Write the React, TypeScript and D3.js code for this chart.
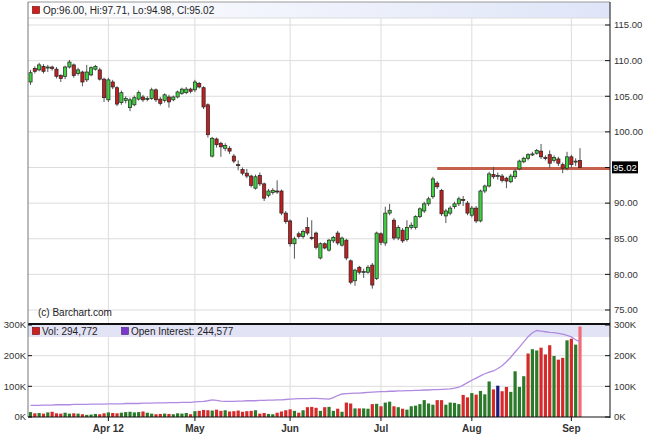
import React from "react";
import * as d3 from "d3";

// ---- DATA ----
const opens = [107.0,108.9,108.7,109.2,109.0,109.1,108.8,107.9,107.8,109.1,109.4,108.2,108.4,107.3,108.0,108.8,108.7,107.4,104.5,107.0,106.2,104.1,104.4,103.4,103.8,104.6,104.9,104.6,104.7,105.9,104.6,104.4,104.9,104.5,104.9,105.4,105.5,106.0,105.9,106.8,106.2,103.8,96.6,99.0,98.4,97.7,97.7,96.6,95.4,94.7,94.2,93.8,92.1,93.9,92.7,91.1,91.5,91.7,91.7,88.6,87.5,84.3,85.7,85.3,86.6,85.2,85.8,82.3,84.3,83.4,84.7,85.8,84.1,84.8,81.9,79.1,81.0,80.3,80.3,81.3,79.4,85.7,84.4,88.6,87.6,85.1,86.2,84.9,86.6,86.6,88.1,88.9,89.9,90.9,92.8,91.8,88.2,88.6,89.5,89.9,90.5,90.0,88.3,89.3,87.5,91.7,92.4,94.0,93.8,93.8,93.5,93.0,93.7,94.8,95.8,96.3,96.8,97.0,97.3,96.4,96.8,96.0,96.2,95.4,94.9,96.5,95.8,96.0];
const highs = [108.7,109.2,109.7,109.5,109.4,109.3,109.1,108.1,109.3,110.1,109.6,109.0,108.6,109.4,109.2,109.4,109.0,107.6,107.6,107.3,106.4,105.8,105.0,104.8,105.1,105.8,105.2,105.0,106.2,106.1,104.9,105.4,105.2,105.1,105.8,106.2,106.3,106.2,107.3,107.0,106.4,104.0,99.3,99.2,98.6,98.4,98.0,96.9,96.0,95.0,94.8,94.0,94.0,94.3,92.9,92.0,92.1,93.2,91.9,88.9,87.7,85.3,86.0,86.3,88.0,87.6,86.0,84.5,84.5,85.0,85.4,86.1,85.3,85.0,82.1,80.8,81.2,80.8,81.3,81.6,86.0,85.9,89.5,89.9,87.9,86.9,86.5,87.6,87.3,88.3,89.4,90.2,90.9,93.7,93.1,92.0,89.2,89.6,90.2,90.9,91.0,90.3,89.6,89.6,91.9,92.6,94.4,95.1,94.3,94.1,93.7,94.1,94.8,96.1,96.5,97.0,97.2,97.6,98.3,96.7,97.4,96.7,96.5,95.7,97.2,96.8,96.3,97.71];
const lows = [106.6,108.2,108.5,108.2,108.4,108.6,107.5,107.0,107.4,108.9,107.6,107.9,106.4,107.0,107.8,108.6,107.2,104.2,104.2,106.0,103.6,103.8,104.0,102.9,103.6,104.4,104.2,104.3,104.5,104.2,103.7,104.1,103.4,104.3,104.7,105.2,105.3,105.4,105.6,106.1,103.2,99.2,96.4,97.8,96.5,97.3,96.9,95.6,94.6,93.9,93.5,92.2,91.9,92.4,90.3,90.8,91.2,91.3,88.3,87.1,83.9,82.2,85.0,85.0,85.5,84.8,83.5,82.1,83.5,83.2,84.4,84.1,83.9,82.0,78.6,78.4,80.0,79.5,80.1,78.0,79.2,84.1,84.0,88.3,84.8,84.8,84.4,84.6,86.3,86.3,87.9,88.6,89.6,90.6,92.0,88.2,87.2,88.3,89.2,89.6,89.6,88.3,88.0,87.2,87.3,91.4,92.2,93.4,93.3,92.9,92.1,92.8,93.4,94.6,95.6,96.0,96.6,96.8,96.2,96.0,94.9,95.7,95.2,94.2,94.6,94.9,95.2,94.98];
const closes = [108.3,108.5,109.4,108.5,109.1,108.9,107.8,107.5,109.1,109.8,107.9,108.7,107.0,108.4,109.0,109.2,107.4,104.8,107.3,106.3,103.9,105.5,104.7,104.5,104.8,105.5,104.5,104.7,105.9,104.5,104.0,105.2,104.2,104.9,105.6,106.0,106.0,105.7,107.0,106.3,103.5,99.6,99.1,98.2,97.9,98.1,97.3,95.9,95.3,94.2,93.8,92.5,93.7,92.7,90.7,91.7,91.8,91.6,88.6,87.4,84.3,85.0,85.3,86.0,85.8,85.1,83.8,84.3,83.7,84.8,85.2,84.4,85.1,82.3,78.9,80.6,80.3,80.4,81.0,78.5,85.8,84.5,88.6,89.0,85.1,86.6,84.7,86.6,86.9,88.1,89.2,89.9,90.6,93.4,92.3,88.5,88.9,89.3,89.9,90.6,90.4,88.6,89.3,87.5,91.7,92.4,94.1,93.7,93.9,93.2,93.1,93.8,94.5,95.9,96.3,96.8,96.9,97.4,96.5,96.3,95.6,96.4,95.6,94.9,96.5,95.4,95.9,95.02];
// volume in thousands
const volumes = [16,12,13,11,15,17,12,11,14,11,12,11,9,7,8,10,9,12,
  15,13,12,14,16,17,15,16,18,14,11,9,10,11,10,9,12,11,13,9,
  19,20,23,22,21,24,20,22,18,19,21,17,19,20,22,11,13,10,9,14,18,22,
  25,20,14,22,32,33,30,20,32,33,20,27,17,47,44,28,28,28,27,42,43,
  35,47,50,35,32,27,24,35,37,42,55,44,40,55,55,40,47,46,42,
  72,64,78,73,85,74,116,90,102,84,98,82,149,98,133,207,221,217,226,204,234,199,187,193,250,255,236,295];
// open interest in thousands
const openInterest = [38,38,38,39,39,39,40,40,40,40,41,41,41,41,42,42,42,42,
  43,43,43,43,44,44,44,44,45,45,45,46,46,46,47,47,47,48,48,48,
  49,50,51,53,56,54,52,51,51,51,52,52,53,53,53,54,54,55,55,56,56,57,
  58,59,60,60,60,61,61,60,59,58,63,70,75,76,77,78,78,79,80,81,82,
  83,83,84,84,85,85,86,86,87,87,88,88,89,89,90,91,92,94,97,104,112,
  120,127,134,141,146,150,158,167,180,195,212,228,245,262,275,282,280,278,276,275,273,270,266,261,252,245];
// volume bar direction for the last 28 sessions (u up, d down, n unchanged, p latest)
const volTailDir = "ddudu" + "uudnd" + "duuuu" + "duudd" + "duddu" + "dup";
const monthLabels = ["Apr 12", "May", "Jun", "Jul", "Aug", "Sep"];
const monthIdx = [18, 38, 60, 81, 102, 125];
const priceTicks = [75, 80, 85, 90, 95, 100, 105, 110, 115];
const volTicks = [0, 100, 200, 300];
const supportLevel = 94.85;
const supportStart = 94;
const legendText = "Op:96.00, Hi:97.71, Lo:94.98, Cl:95.02";
const volLegend = "Vol: 294,772";
const oiLegend = "Open Interest: 244,577";
const lastLabel = "95.02";

const W = 645, H = 445;
const L = 28, R = 610;
const FONT = "'Liberation Sans', Arial, sans-serif";

export default function App() {
  const n = opens.length;
  const x = d3.scaleLinear().domain([0, n - 1]).range([30.5, 580]);
  const y = d3.scaleLinear().domain([75, 115]).range([310, 25]);
  const yv = d3.scaleLinear().domain([0, 300]).range([417, 325]);
  const bw = 3.2;
  const oiLine = d3.line<number>().x((_, i) => x(i)).y((d) => yv(d))(openInterest) || "";
  const volColor = (i: number) => {
    const c = i >= n - volTailDir.length ? volTailDir[i - (n - volTailDir.length)] : (closes[i] >= opens[i] ? "u" : "d");
    if (c === "u") return "#2a7a2a";
    if (c === "n") return "#1a1a80";
    if (c === "p") return "#f06a78";
    return "#d42a2a";
  };
  const lastY = y(closes[n - 1]);
  return (
    <svg width={W} height={H} style={{ position: "absolute", left: 0, top: 0, background: "#fff" }} fontFamily={FONT}>
      <defs>
        <linearGradient id="topband" x1="0" x2="1" y1="0" y2="0">
          <stop offset="0" stopColor="#ffffff" />
          <stop offset="1" stopColor="#dfe5f8" />
        </linearGradient>
        <filter id="blur" x="-5%" y="-200%" width="110%" height="500%">
          <feGaussianBlur stdDeviation="1.2" />
        </filter>
      </defs>
      <rect x={0} y={0} width={W} height={H} fill="#fff" />
      <rect x={L} y={2} width={R - L} height={16} fill="url(#topband)" />
      <line x1={L} x2={R} y1={2} y2={2} stroke="#999" />
      {priceTicks.map((t) => (
        <line key={"g" + t} x1={L} x2={R} y1={y(t)} y2={y(t)} stroke="#dcdcdc" />
      ))}
      <line x1={L} x2={R} y1={18} y2={18} stroke="#dcdcdc" />
      {monthIdx.map((mi) => (
        <line key={"v" + mi} x1={x(mi)} x2={x(mi)} y1={18} y2={417} stroke="#dcdcdc" />
      ))}
      <rect x={L} y={325} width={R - L} height={12} fill="#e3e3f6" />
      {[100, 200].map((t) => (
        <line key={"vg" + t} x1={L} x2={R} y1={yv(t)} y2={yv(t)} stroke="#dcdcdc" />
      ))}
      <line x1={x(supportStart)} x2={R} y1={y(supportLevel) + 3} y2={y(supportLevel) + 3} stroke="#9a9a9a" strokeWidth={3} opacity={0.7} filter="url(#blur)" />
      <line x1={x(supportStart)} x2={R} y1={y(supportLevel)} y2={y(supportLevel)} stroke="#c4604c" strokeWidth={3} />
      {opens.map((o, i) => {
        const c = closes[i];
        const up = c >= o;
        const top = y(Math.max(o, c));
        const bot = y(Math.min(o, c));
        return (
          <g key={"c" + i}>
            <line x1={x(i)} x2={x(i)} y1={y(highs[i])} y2={y(lows[i])} stroke="#555" strokeWidth={1} />
            <rect x={x(i) - bw / 2} y={top} width={bw} height={Math.max(1, bot - top)} fill={up ? "#3fd13f" : "#c41f1f"} stroke="#222" strokeWidth={0.7} />
          </g>
        );
      })}
      {volumes.map((v, i) => (
        <rect key={"vb" + i} x={x(i) - 1.6} y={yv(v)} width={3.2} height={417 - yv(v)} fill={volColor(i)} />
      ))}
      <path d={oiLine} fill="none" stroke="#b08ae0" strokeWidth={1.3} />
      <line x1={L} x2={R} y1={324} y2={324} stroke="#111" strokeWidth={2} />
      <line x1={L} x2={L} y1={2} y2={417} stroke="#777" />
      <line x1={R} x2={R} y1={2} y2={418} stroke="#111" />
      <line x1={L} x2={R} y1={417} y2={417} stroke="#111" />
      {monthIdx.map((mi) => (
        <line key={"t" + mi} x1={x(mi)} x2={x(mi)} y1={417} y2={421} stroke="#111" />
      ))}
      {priceTicks.map((t) => (
        <g key={"pt" + t}>
          <line x1={R - 5} x2={R} y1={y(t)} y2={y(t)} stroke="#111" />
          {Math.abs(y(t) - lastY) > 8 && (
            <text x={614} y={y(t)} dy="0.35em" fontSize={9.5} fill="#333">{t.toFixed(2)}</text>
          )}
        </g>
      ))}
      <rect x={612} y={lastY - 6} width={26} height={12} fill="#000" />
      <text x={613} y={lastY} dy="0.35em" fontSize={9.5} fill="#fff">{lastLabel}</text>
      {volTicks.map((t) => (
        <g key={"vt" + t}>
          <line x1={R - 5} x2={R} y1={yv(t)} y2={yv(t)} stroke="#111" />
          <line x1={L} x2={L + 4} y1={yv(t)} y2={yv(t)} stroke="#111" />
          <text x={614} y={yv(t)} dy="0.35em" fontSize={9.5} fill="#333">{t + "K"}</text>
          <text x={26} y={yv(t)} dy="0.35em" fontSize={9.5} fill="#333" textAnchor="end">{t + "K"}</text>
        </g>
      ))}
      {monthLabels.map((m, k) => (
        <text key={"ml" + m} x={x(monthIdx[k])} y={432} fontSize={10} fontWeight="bold" fill="#333" textAnchor="middle">{m}</text>
      ))}
      <rect x={32.5} y={6.5} width={7} height={7} fill="#cc1f1f" stroke="#600" strokeWidth={0.6} />
      <text x={43} y={14} fontSize={10} fill="#222">{legendText}</text>
      <text x={38} y={316} fontSize={10} fill="#222">(c) Barchart.com</text>
      <rect x={32.5} y={327.5} width={7} height={7} fill="#cc1f1f" stroke="#600" strokeWidth={0.6} />
      <text x={42} y={335} fontSize={10} fill="#222">{volLegend}</text>
      <rect x={121.5} y={327.5} width={7} height={7} fill="#7a38c8" stroke="#402070" strokeWidth={0.6} />
      <text x={131} y={335} fontSize={10} fill="#222">{oiLegend}</text>
    </svg>
  );
}
